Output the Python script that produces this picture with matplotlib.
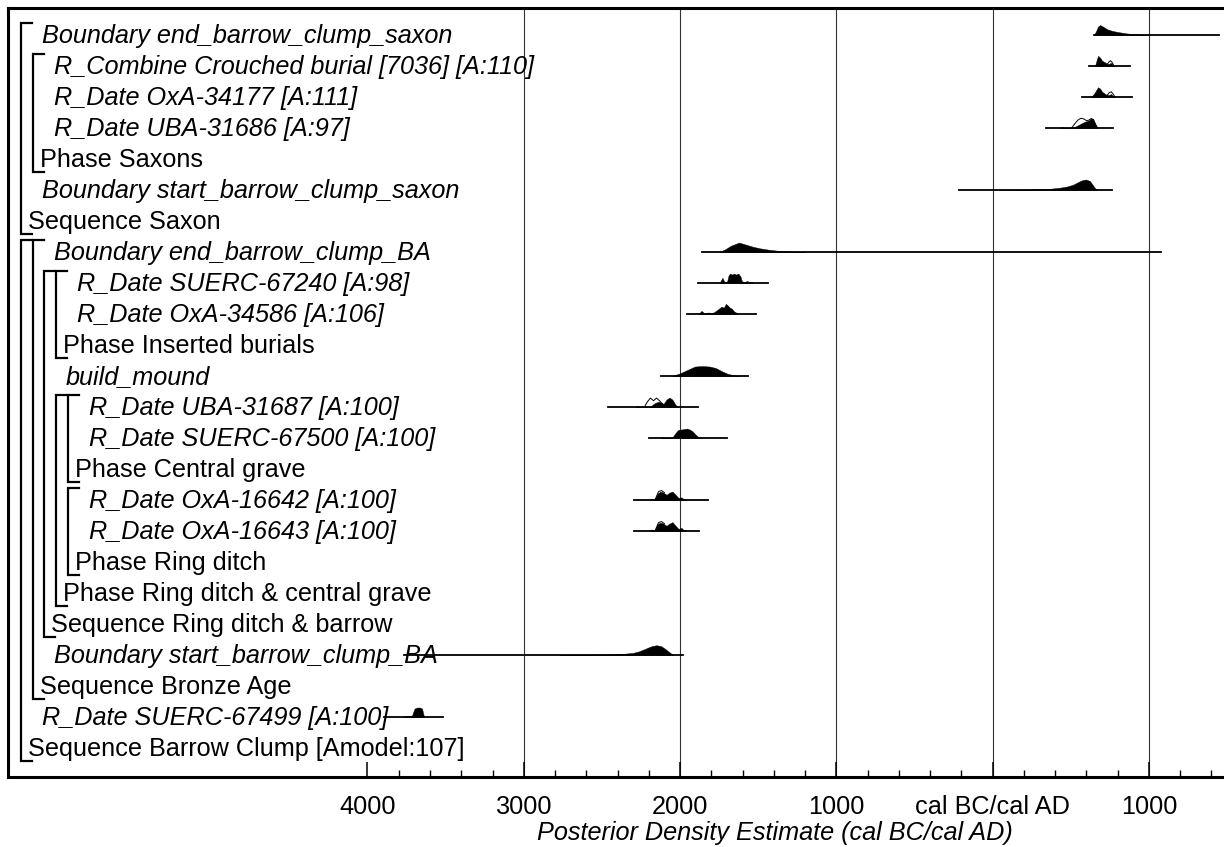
import matplotlib
matplotlib.use("Agg")
import matplotlib.pyplot as plt
from matplotlib import transforms
from matplotlib.ticker import FixedLocator, FuncFormatter

plt.rcParams['font.family'] = ['Liberation Sans', 'DejaVu Sans']

# rows from top to bottom
row_labels = [
    "Boundary end_barrow_clump_saxon",
    "R_Combine Crouched burial [7036] [A:110]",
    "R_Date OxA-34177 [A:111]",
    "R_Date UBA-31686 [A:97]",
    "Phase Saxons",
    "Boundary start_barrow_clump_saxon",
    "Sequence Saxon",
    "Boundary end_barrow_clump_BA",
    "R_Date SUERC-67240 [A:98]",
    "R_Date OxA-34586 [A:106]",
    "Phase Inserted burials",
    "build_mound",
    "R_Date UBA-31687 [A:100]",
    "R_Date SUERC-67500 [A:100]",
    "Phase Central grave",
    "R_Date OxA-16642 [A:100]",
    "R_Date OxA-16643 [A:100]",
    "Phase Ring ditch",
    "Phase Ring ditch & central grave",
    "Sequence Ring ditch & barrow",
    "Boundary start_barrow_clump_BA",
    "Sequence Bronze Age",
    "R_Date SUERC-67499 [A:100]",
    "Sequence Barrow Clump [Amodel:107]",
]
# 'i' = dated item (italic), 'g' = group label
row_kind = ['i', 'i', 'i', 'i', 'g', 'i', 'g', 'i', 'i', 'i', 'g', 'i',
            'i', 'i', 'g', 'i', 'i', 'g', 'g', 'g', 'i', 'g', 'i', 'g']
# nesting depth (items) or bracket level (groups)
row_depth = [1, 2, 2, 2, 1, 1, 0, 2, 4, 4, 3, 3,
             5, 5, 4, 5, 5, 4, 3, 2, 2, 1, 1, 0]

# brackets: first row, last row, level
groups = [(1, 7, 0), (2, 5, 1), (8, 24, 0), (8, 22, 1), (9, 20, 2),
          (9, 11, 3), (13, 19, 3), (13, 15, 4), (16, 18, 4)]

# posterior densities, years cal BC negative, heights relative
end_saxon_yr = [648, 661, 674, 687, 706, 732, 763, 795, 847, 898, 943, 994]
end_saxon_p = [0, .35, .8, .95, .8, .55, .4, .3, .17, .09, .04, 0]

combine_yr = [655, 664, 674, 687, 700, 719, 732, 745, 754, 764, 777]
combine_p = [0, .5, .97, .8, .5, .35, .2, .2, .3, .2, 0]
combine_prior_yr = [732, 745, 754, 764, 777]
combine_prior_p = [.15, .4, .5, .35, 0]

oxa34177_yr = [628, 648, 674, 687, 700, 719, 732, 745, 758, 770, 783]
oxa34177_p = [0, .3, .93, .8, .5, .3, .18, .2, .28, .1, 0]
oxa34177_prior_yr = [732, 745, 758, 770, 783]
oxa34177_prior_p = [.15, .4, .5, .3, 0]

uba31686_yr = [431, 444, 457, 510, 530, 550, 570, 590, 603, 616, 629, 642, 655, 667]
uba31686_p = [0, .1, 0, 0, .15, .3, .45, .6, .65, .75, .9, .85, .4, 0]
uba31686_prior_yr = [505, 525, 545, 565, 585, 600, 615, 630, 645, 660, 672]
uba31686_prior_p = [0, .4, .75, .93, .85, .7, .75, .9, .8, .3, 0]

start_saxon_yr = [47, 239, 367, 431, 475, 514, 546, 572, 597, 623, 648, 667]
start_saxon_p = [0, .04, .12, .22, .33, .5, .75, .93, 1.0, .85, .3, 0]

end_ba_yr = [-1751, -1713, -1674, -1623, -1578, -1534, -1489, -1438, -1387, -1336, -1265, -1201]
end_ba_p = [0, .25, .6, .9, .7, .5, .35, .23, .14, .08, .03, 0]

suerc67240_yr = [-1748, -1729, -1716, -1700, -1690, -1681, -1668, -1655, -1642, -1627,
                 -1613, -1604, -1584, -1572, -1559, -1546, -1534]
suerc67240_p = [0, .5, .08, .1, .7, .9, .8, .9, .8, .9, .6, .15, .1, .2, .1, .12, 0]

oxa34586_yr = [-1882, -1863, -1844, -1818, -1799, -1780, -1761, -1735, -1720, -1707,
               -1694, -1681, -1668, -1655, -1642, -1629]
oxa34586_p = [0, .3, .05, .15, .05, .2, .4, .7, .6, .97, .8, .6, .5, .25, .15, 0]

mound_yr = [-2052, -2001, -1950, -1905, -1860, -1809, -1770, -1732, -1694, -1655, -1617]
mound_p = [0, .25, .6, .9, .95, .9, .75, .45, .2, .07, 0]

uba31687_yr = [-2286, -2273, -2260, -2196, -2177, -2158, -2138, -2119, -2106, -2087,
               -2068, -2049, -2029, -2010]
uba31687_p = [0, .1, 0, 0, .2, .4, .5, .4, .3, .7, .9, .7, .2, 0]
uba31687_prior_yr = [-2228, -2209, -2190, -2170, -2151, -2132, -2113]
uba31687_prior_p = [0, .5, .85, .6, .85, .6, .3]

suerc67500_yr = [-2123, -2110, -2097, -2052, -2033, -2014, -1995, -1976, -1957, -1937,
                 -1918, -1899, -1880, -1867]
suerc67500_p = [0, .05, 0, 0, .4, .75, .8, .85, .9, .8, .6, .3, .05, 0]

oxa16642_yr = [-2196, -2183, -2170, -2158, -2145, -2126, -2106, -2087, -2068, -2049,
               -2029, -2010, -1991, -1978, -1959]
oxa16642_p = [0, .15, 0, .2, .6, .8, .7, .5, .7, .8, .5, .2, .25, .1, 0]
oxa16642_prior_yr = [-2158, -2138, -2119, -2100]
oxa16642_prior_p = [.1, .8, .9, .7]

oxa16643_yr = [-2196, -2183, -2170, -2158, -2145, -2126, -2106, -2087, -2068, -2049,
               -2029, -2010, -1991, -1978, -1959]
oxa16643_p = [0, .15, 0, .2, .65, .8, .7, .5, .7, .85, .5, .2, .3, .1, 0]
oxa16643_prior_yr = [-2158, -2138, -2119, -2100]
oxa16643_prior_p = [.1, .8, .9, .7]

start_ba_yr = [-2769, -2577, -2449, -2353, -2301, -2269, -2237, -2206, -2180, -2150,
               -2122, -2097, -2071, -2045]
start_ba_p = [0, .03, .06, .13, .2, .32, .5, .7, .85, .93, .85, .6, .3, 0]

suerc67499_yr = [-3773, -3756, -3741, -3715, -3699, -3683, -3664, -3651, -3638]
suerc67499_p = [0, .1, .05, .15, .8, .9, .9, .8, 0]

# row, range start, range end, density, prior outline
dists = [
    (1, 648, 1450, end_saxon_yr, end_saxon_p, None, None),
    (2, 617, 879, combine_yr, combine_p, combine_prior_yr, combine_prior_p),
    (3, 570, 890, oxa34177_yr, oxa34177_p, oxa34177_prior_yr, oxa34177_prior_p),
    (4, 341, 770, uba31686_yr, uba31686_p, uba31686_prior_yr, uba31686_prior_p),
    (6, -216, 763, start_saxon_yr, start_saxon_p, None, None),
    (8, -1857, 1078, end_ba_yr, end_ba_p, None, None),
    (9, -1884, -1436, suerc67240_yr, suerc67240_p, None, None),
    (10, -1953, -1515, oxa34586_yr, oxa34586_p, None, None),
    (12, -2123, -1566, mound_yr, mound_p, None, None),
    (13, -2464, -1888, uba31687_yr, uba31687_p, uba31687_prior_yr, uba31687_prior_p),
    (14, -2199, -1700, suerc67500_yr, suerc67500_p, None, None),
    (16, -2296, -1824, oxa16642_yr, oxa16642_p, oxa16642_prior_yr, oxa16642_prior_p),
    (17, -2296, -1880, oxa16643_yr, oxa16643_p, oxa16643_prior_yr, oxa16643_prior_p),
    (21, -3767, -1984, start_ba_yr, start_ba_p, None, None),
    (23, -3892, -3518, suerc67499_yr, suerc67499_p, None, None),
]

major_ticks = [-4000, -3000, -2000, -1000, 0, 1000]
minor_ticks = [y for y in range(-4000, 1401, 200) if y % 1000 != 0]
grid_years = [-3000, -2000, -1000, 0, 1000]

W, H = 1224, 847
fig = plt.figure(figsize=(W / 100, H / 100), dpi=100)
ax_l, ax_r, ax_t, ax_b = 8, 1224, 8, 777
ax = fig.add_axes([ax_l / W, 1 - ax_b / H, (ax_r - ax_l) / W, (ax_b - ax_t) / H])

row_px = 31.0
first_px = 35.0
ax.set_xlim(-6300, 1480)
ax.set_ylim(1 + (ax_b - first_px) / row_px, 1 - (first_px - ax_t) / row_px)

dens_scale = 10.5 / row_px

for yr in grid_years:
    ax.axvline(yr, color='#333333', lw=0.8, zorder=1)

for row, r0, r1, yrs, p, pyrs, pp in dists:
    ax.plot([r0, r1], [row, row], color='black', lw=1.3, zorder=3)
    ax.fill_between(yrs, row, [row - v * dens_scale for v in p],
                    color='black', lw=0.3, zorder=3)
    if pyrs is not None:
        ax.plot(pyrs, [row - v * dens_scale for v in pp], color='black',
                lw=0.7, zorder=4)

# labels and brackets in pixel offsets from the left edge
axw = ax_r - ax_l
axh = ax_b - ax_t
trans = transforms.blended_transform_factory(ax.transAxes, ax.transData)
step = 11.7

for i, (lab, kind, d) in enumerate(zip(row_labels, row_kind, row_depth)):
    row = i + 1
    if kind == 'i':
        px = 42 + step * (d - 1) - ax_l
        style = 'italic'
    else:
        px = 28 + step * d - ax_l
        style = 'normal'
    ax.text(px / axw, row + 8 / row_px, lab, transform=trans, fontsize=18.2,
            fontstyle=style, va='baseline', ha='left', zorder=2)

for first, last, lev in groups:
    bx = (21 + step * lev - ax_l) / axw
    bx2 = bx + 11 / axw
    y0 = first - 12 / row_px
    y1 = last + 13 / row_px
    ax.plot([bx2, bx, bx, bx2], [y0, y0, y1, y1], color='black', lw=1.6,
            transform=trans, solid_joinstyle='miter', zorder=2)

for s in ['top', 'left', 'bottom']:
    ax.spines[s].set_linewidth(2.2)
ax.spines['right'].set_visible(False)

ax.xaxis.set_major_locator(FixedLocator(major_ticks))
ax.xaxis.set_minor_locator(FixedLocator(minor_ticks))
ax.xaxis.set_major_formatter(FuncFormatter(
    lambda v, pos: "cal BC/cal AD" if v == 0 else str(int(abs(v)))))
ax.tick_params(axis='x', which='major', direction='in', length=11, width=1.1,
               labelsize=18.2, pad=13)
ax.tick_params(axis='x', which='minor', direction='in', length=5, width=1.0)
ax.set_yticks([])
ax.set_xlabel("Posterior Density Estimate (cal BC/cal AD)", fontsize=18.2,
              fontstyle='italic')
# the plot frame runs past the right edge, so the title sits right of centre
ax.xaxis.set_label_coords((775 - ax_l) / axw, -(821 - ax_b) / axh)

fig.savefig("out.png", dpi=100)
